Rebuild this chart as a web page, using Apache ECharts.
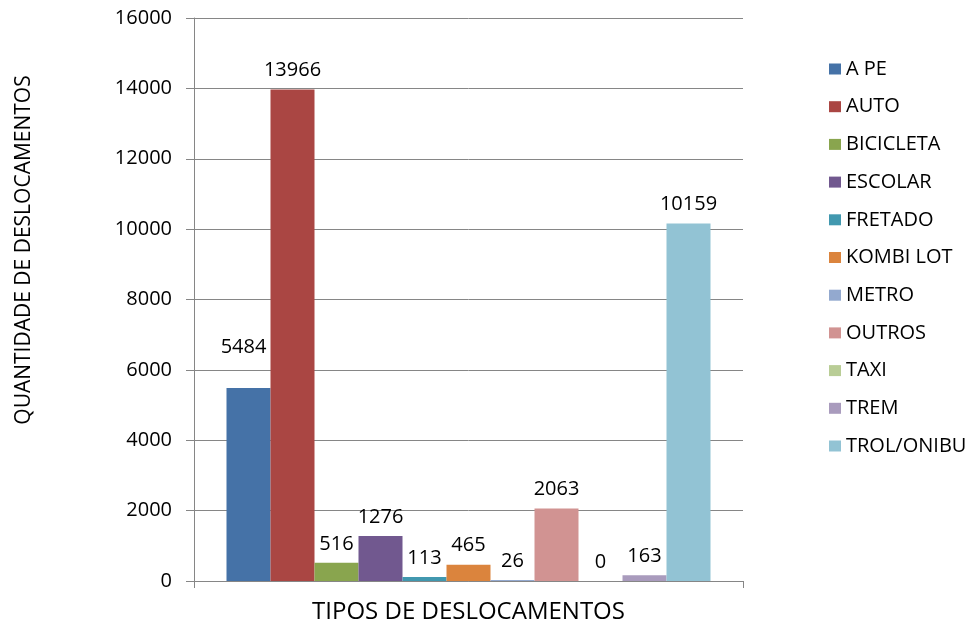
<!DOCTYPE html>
<html><head><meta charset="utf-8">
<script src="https://cdn.jsdelivr.net/npm/echarts@6/dist/echarts.min.js"></script>
<style>html,body{margin:0;padding:0;background:#fff}#c{width:972px;height:625px}</style>
</head><body><div id="c"></div>
<script>
const seriesNames = ['A PE','AUTO','BICICLETA','ESCOLAR','FRETADO','KOMBI LOT','METRO','OUTROS','TAXI','TREM','TROL/ONIBU'];
const seriesValues = [5484, 13966, 516, 1276, 113, 465, 26, 2063, 0, 163, 10159];
const categories = [''];
const yTitle = 'QUANTIDADE DE DESLOCAMENTOS';
const xTitle = 'TIPOS DE DESLOCAMENTOS';
const colors = ['#4572A7','#AA4643','#89A54E','#71588F','#4198AF','#DB843D','#93A9CF','#D19392','#B9CD96','#A99BBD','#92C3D4'];
const FONT = 'Open Sans';
const chart = echarts.init(document.getElementById('c'));
chart.setOption({
  animation: false,
  textStyle: {fontFamily: FONT},
  grid: {left: 194, right: 229, top: 18, bottom: 44, outerBoundsMode: 'none', containLabel: false},
  legend: {
    orient: 'vertical', left: 829, top: 59, padding: 0, icon: 'rect', itemWidth: 12, itemHeight: 11,
    itemGap: 17.7, textStyle: {fontFamily: FONT, fontSize: 20, color: '#000', lineHeight: 20},
    data: seriesNames
  },
  graphic: [{
    type: 'text', x: 24, y: 250, rotation: Math.PI / 2,
    style: {text: yTitle, fontFamily: FONT, fontSize: 21, fill: '#000', align: 'center', verticalAlign: 'middle'}
  }],
  xAxis: {
    type: 'category', data: categories,
    name: xTitle, nameLocation: 'middle', nameGap: 19,
    nameTextStyle: {fontFamily: FONT, fontSize: 24, color: '#000'},
    axisLine: {lineStyle: {color: '#868686'}},
    axisTick: {show: true, length: 7, lineStyle: {color: '#868686'}},
    axisLabel: {show: false}
  },
  yAxis: {
    type: 'value', min: 0, max: 16000, interval: 2000,
    axisLine: {show: true, lineStyle: {color: '#868686'}},
    axisTick: {show: true, length: 8, lineStyle: {color: '#868686'}},
    axisLabel: {fontFamily: FONT, fontSize: 20, color: '#000', margin: 22, formatter: v => String(v)},
    splitLine: {lineStyle: {color: '#868686'}}
  },
  series: seriesNames.map((n, i) => ({
    name: n, type: 'bar', barWidth: 44, barGap: '0%',
    itemStyle: {color: colors[i]},
    label: {
      show: true, position: 'top', distance: i === 0 ? 31 : 9, offset: i === 0 ? [-5, 0] : [0, 0],
      fontFamily: FONT, fontSize: 20, color: '#000'
    },
    data: [seriesValues[i]]
  }))
});
</script></body></html>
